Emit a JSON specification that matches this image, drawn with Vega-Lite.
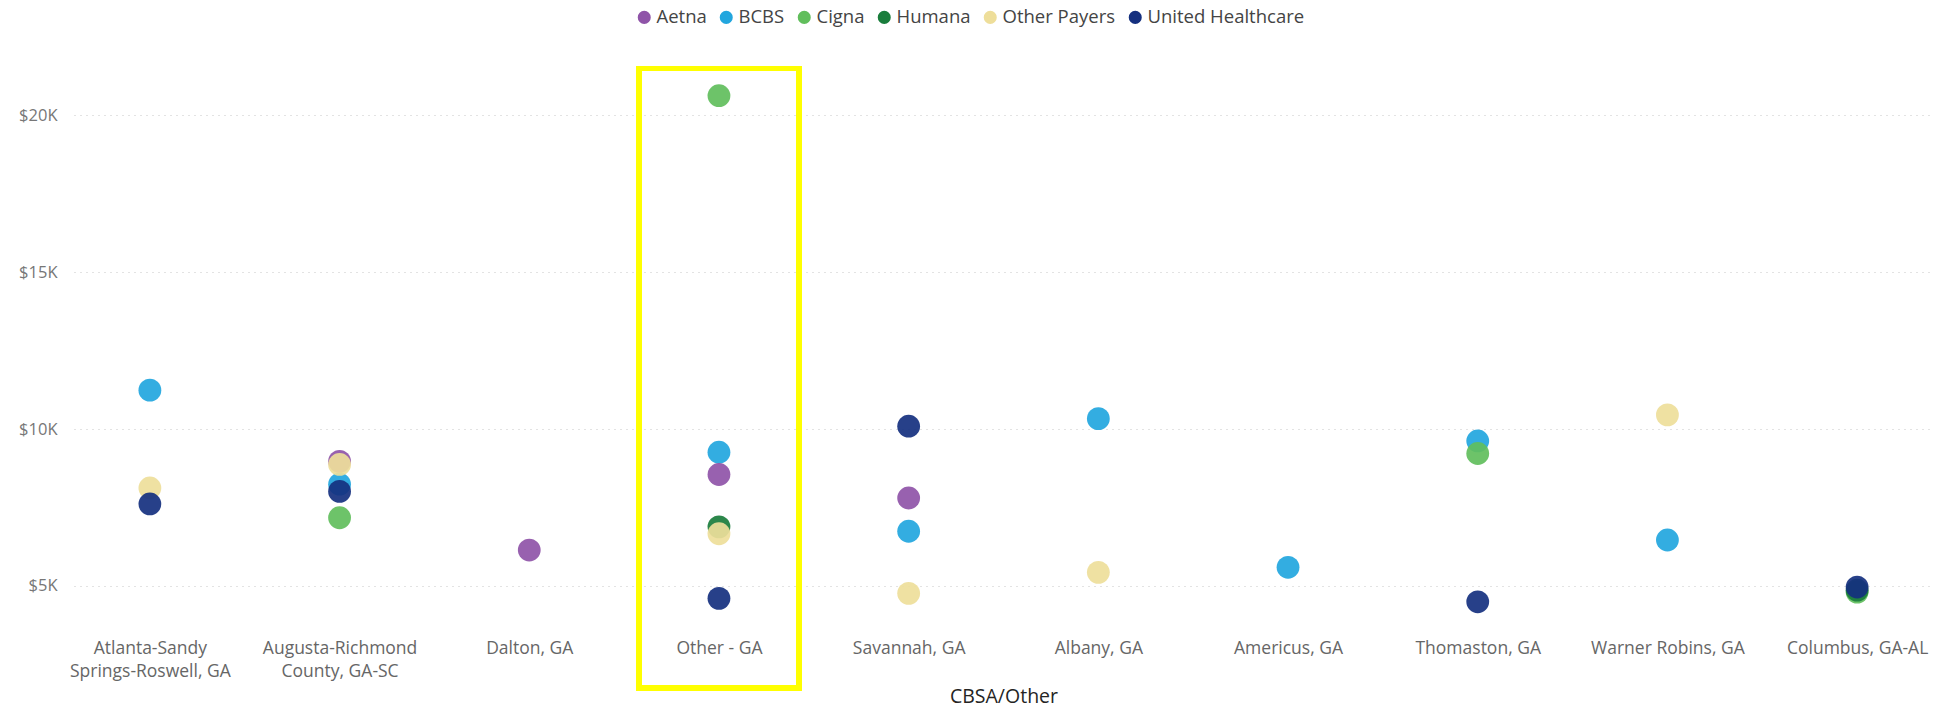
{
  "$schema": "https://vega.github.io/schema/vega-lite/v6.json",
  "autosize": "none",
  "width": 1859,
  "height": 555,
  "padding": {"left": 74, "top": 70, "right": 8, "bottom": 87},
  "background": "white",
  "config": {
    "font": "Open Sans",
    "view": {"stroke": null}
  },
  "data": {
    "values": [
      {"cbsa": "Atlanta-Sandy Springs-Roswell, GA", "payer": "BCBS", "amount": 11240},
      {"cbsa": "Augusta-Richmond County, GA-SC", "payer": "BCBS", "amount": 8240},
      {"cbsa": "Other - GA", "payer": "BCBS", "amount": 9260},
      {"cbsa": "Savannah, GA", "payer": "BCBS", "amount": 6740},
      {"cbsa": "Albany, GA", "payer": "BCBS", "amount": 10330},
      {"cbsa": "Americus, GA", "payer": "BCBS", "amount": 5590},
      {"cbsa": "Thomaston, GA", "payer": "BCBS", "amount": 9620},
      {"cbsa": "Warner Robins, GA", "payer": "BCBS", "amount": 6460},
      {"cbsa": "Augusta-Richmond County, GA-SC", "payer": "Aetna", "amount": 8970},
      {"cbsa": "Dalton, GA", "payer": "Aetna", "amount": 6140},
      {"cbsa": "Other - GA", "payer": "Aetna", "amount": 8550},
      {"cbsa": "Savannah, GA", "payer": "Aetna", "amount": 7800},
      {"cbsa": "Augusta-Richmond County, GA-SC", "payer": "Cigna", "amount": 7170},
      {"cbsa": "Other - GA", "payer": "Cigna", "amount": 20630},
      {"cbsa": "Thomaston, GA", "payer": "Cigna", "amount": 9220},
      {"cbsa": "Columbus, GA-AL", "payer": "Cigna", "amount": 4800},
      {"cbsa": "Other - GA", "payer": "Humana", "amount": 6880},
      {"cbsa": "Columbus, GA-AL", "payer": "Humana", "amount": 4860},
      {"cbsa": "Atlanta-Sandy Springs-Roswell, GA", "payer": "Other Payers", "amount": 8120},
      {"cbsa": "Augusta-Richmond County, GA-SC", "payer": "Other Payers", "amount": 8870},
      {"cbsa": "Other - GA", "payer": "Other Payers", "amount": 6660},
      {"cbsa": "Savannah, GA", "payer": "Other Payers", "amount": 4760},
      {"cbsa": "Albany, GA", "payer": "Other Payers", "amount": 5430},
      {"cbsa": "Warner Robins, GA", "payer": "Other Payers", "amount": 10450},
      {"cbsa": "Atlanta-Sandy Springs-Roswell, GA", "payer": "United Healthcare", "amount": 7610},
      {"cbsa": "Augusta-Richmond County, GA-SC", "payer": "United Healthcare", "amount": 8010},
      {"cbsa": "Other - GA", "payer": "United Healthcare", "amount": 4600},
      {"cbsa": "Savannah, GA", "payer": "United Healthcare", "amount": 10090},
      {"cbsa": "Thomaston, GA", "payer": "United Healthcare", "amount": 4490},
      {"cbsa": "Columbus, GA-AL", "payer": "United Healthcare", "amount": 4960}
    ]
  },
  "layer": [
    {
      "mark": {"type": "point", "filled": true, "shape": "circle", "size": 520, "opacity": 0.92},
      "encoding": {
        "x": {
          "field": "cbsa",
          "type": "nominal",
          "sort": ["Atlanta-Sandy Springs-Roswell, GA", "Augusta-Richmond County, GA-SC", "Dalton, GA", "Other - GA", "Savannah, GA", "Albany, GA", "Americus, GA", "Thomaston, GA", "Warner Robins, GA", "Columbus, GA-AL"],
          "scale": {"type": "point", "padding": 0.4},
          "title": "CBSA/Other",
          "axis": {
            "labelAngle": 0,
            "domain": false,
            "ticks": false,
            "labelFontSize": 17.5,
            "labelColor": "#666666",
            "labelPadding": 14,
            "labelLineHeight": 23,
            "labelExpr": "datum.label == 'Atlanta-Sandy Springs-Roswell, GA' ? ['Atlanta-Sandy', 'Springs-Roswell, GA'] : datum.label == 'Augusta-Richmond County, GA-SC' ? ['Augusta-Richmond', 'County, GA-SC'] : datum.label",
            "titleFontSize": 19.5,
            "titleFontWeight": 500,
            "titleColor": "#252423",
            "titlePadding": 8
          }
        },
        "y": {
          "field": "amount",
          "type": "quantitative",
          "scale": {"domain": [3750, 21450], "zero": false, "nice": false},
          "title": null,
          "axis": {
            "values": [5000, 10000, 15000, 20000],
            "domain": false,
            "ticks": false,
            "labelFontSize": 16.5,
            "labelColor": "#777777",
            "labelPadding": 17,
            "labelExpr": "'$' + (datum.value / 1000) + 'K'",
            "gridColor": "#c8c8c8",
            "gridDash": [1, 5],
            "gridWidth": 1.2
          }
        },
        "color": {
          "field": "payer",
          "type": "nominal",
          "scale": {
            "domain": ["Aetna", "BCBS", "Cigna", "Humana", "Other Payers", "United Healthcare"],
            "range": ["#8f54a8", "#22a6de", "#61be5c", "#1a7d3c", "#eede9a", "#15307f"]
          },
          "legend": {
            "title": null,
            "orient": "none",
            "direction": "horizontal",
            "legendX": 561,
            "legendY": -62,
            "symbolType": "circle",
            "symbolSize": 170,
            "symbolOpacity": 1,
            "labelFontSize": 18.5,
            "labelColor": "#444444",
            "labelOffset": 3,
            "columnPadding": 10
          }
        }
      }
    },
    {
      "mark": {"type": "rect", "filled": false, "stroke": "#ffff00", "strokeWidth": 5, "width": 160, "clip": false},
      "encoding": {
        "x": {"datum": "Other - GA", "type": "nominal"},
        "y": {"datum": 21500, "type": "quantitative"},
        "y2": {"datum": 1750}
      }
    }
  ]
}
